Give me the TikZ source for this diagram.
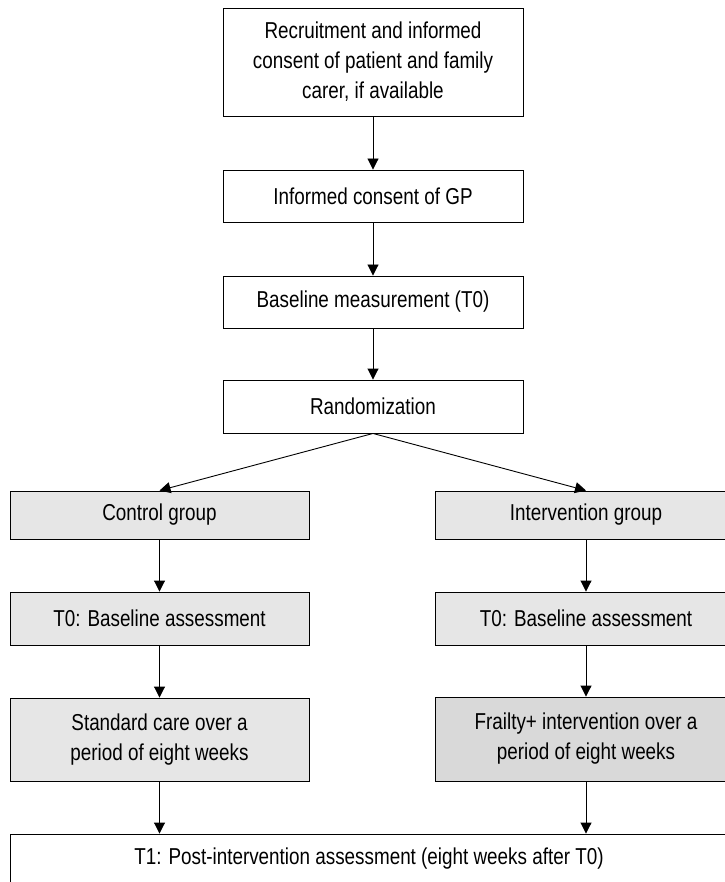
\documentclass[tikz,border=0pt]{standalone}
\usepackage{fontspec}
\setmainfont{Liberation Sans}[FakeStretch=0.82]
\usetikzlibrary{arrows.meta}
\definecolor{boxgrey}{HTML}{E6E6E6}
\definecolor{boxdark}{HTML}{D9D9D9}
\begin{document}
\begin{tikzpicture}[x=1pt,y=-1pt,
  every node/.style={font=\fontsize{23}{30}\selectfont},
  stage/.style={draw, line width=0.9pt, align=center, inner sep=0pt,
    minimum width=300pt, minimum height=52pt},
  arm/.style={stage, fill=boxgrey, minimum width=299pt},
  armright/.style={arm, minimum width=302pt},
  link/.style={line width=0.9pt, -{Triangle[length=11pt,width=11pt]}}]
\useasboundingbox (0,0) rectangle (724,882);

% common path before randomisation
\node[stage, minimum height=108pt] (recruit) at (373,62)
  {Recruitment and informed\\consent of patient and family\\carer, if available};
\node[stage] (gp) at (373,196) {Informed consent of GP};
\node[stage] (base) at (373,302) {Baseline measurement (T0)};
\node[stage, minimum height=53pt] (rand) at (373,406.5) {Randomization};

% control arm
\node[arm, minimum height=48pt] (ctl) at (159.5,515) {Control group};
\node[arm, minimum height=53pt] (ctlbase) at (159.5,618.5) {T0: Baseline assessment};
\node[arm, minimum height=83pt] (ctlcare) at (159.5,739.5)
  {Standard care over a\\period of eight weeks};

% intervention arm
\node[armright, minimum height=48pt] (int) at (586,515) {Intervention group};
\node[armright, minimum height=53pt] (intbase) at (586,618.5) {T0: Baseline assessment};
\node[armright, fill=boxdark, minimum height=84pt] (intcare) at (586,739)
  {Frailty+ intervention over a\\period of eight weeks};

% follow-up
\node[stage, minimum width=718pt, minimum height=50pt] (post) at (369,859)
  {T1: Post-intervention assessment (eight weeks after T0)};

% connectors
\draw[link] (recruit) -- (gp);
\draw[link] (gp) -- (base);
\draw[link] (base) -- (rand);
\draw[link] (rand.south) -- (ctl.north);
\draw[link] (rand.south) -- (int.north);
\draw[link] (ctl) -- (ctlbase);
\draw[link] (ctlbase) -- (ctlcare);
\draw[link] (int) -- (intbase);
\draw[link] (intbase) -- (intcare);
\draw[link] (ctlcare.south) -- (post.north -| ctlcare.south);
\draw[link] (intcare.south) -- (post.north -| intcare.south);
\end{tikzpicture}
\end{document}
